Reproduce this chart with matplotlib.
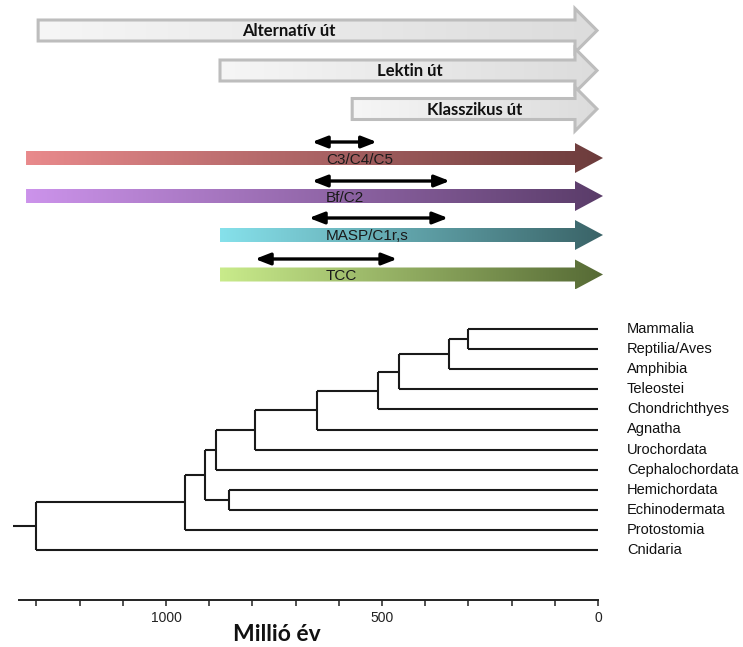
#!/usr/bin/env python

# Complement pathway evolution: pathway arrows over a dated metazoan tree

import numpy as np
import matplotlib
matplotlib.use("Agg")
import matplotlib.pyplot as plt
from matplotlib.patches import Polygon
from matplotlib.colors import LinearSegmentedColormap

# ---- data ---------------------------------------------------------------

taxa = ["Mammalia", "Reptilia/Aves", "Amphibia", "Teleostei", "Chondrichthyes",
        "Agnatha", "Urochordata", "Cephalochordata", "Hemichordata",
        "Echinodermata", "Protostomia", "Cnidaria"]

node_names = ["Amniota", "Tetrapoda", "Osteichthyes", "Gnathostomata",
              "Vertebrata", "Olfactores", "Chordata", "Ambulacraria",
              "Deuterostomia", "Bilateria", "Metazoa"]
node_ages = [300, 345, 460, 510, 650, 795, 885, 855, 910, 955, 1300]
node_children = [("Mammalia", "Reptilia/Aves"), ("Amniota", "Amphibia"),
                 ("Tetrapoda", "Teleostei"), ("Osteichthyes", "Chondrichthyes"),
                 ("Gnathostomata", "Agnatha"), ("Vertebrata", "Urochordata"),
                 ("Olfactores", "Cephalochordata"), ("Hemichordata", "Echinodermata"),
                 ("Chordata", "Ambulacraria"), ("Deuterostomia", "Protostomia"),
                 ("Bilateria", "Cnidaria")]
root_stem_age = 1355

# pathway arrows (start age in My)
pathways = ["Alternatív út", "Lektin út", "Klasszikus út"]
pathway_start = [1296, 875, 569]

# component families: arrow start age and origin interval (double arrow)
components = ["C3/C4/C5", "Bf/C2", "MASP/C1r,s", "TCC"]
comp_start = [1324, 1324, 875, 875]
comp_range = [(662, 512), (662, 343), (669, 347), (794, 465)]
comp_colors = [("#e98a8c", "#6c3c3c"), ("#cc93eb", "#5a3c69"),
               ("#86e1eb", "#3a6367"), ("#c9eb8b", "#566a35")]

x_ticks = list(range(0, 1400, 100))
x_ticklabels = ["0" if t == 0 else (str(t) if t % 500 == 0 else "") for t in x_ticks]

# ---- figure -------------------------------------------------------------

W, H = 743, 647
px_per_my = 0.432
x_zero = 598.0

fig = plt.figure(figsize=(W / 100.0, H / 100.0), dpi=100)
ax = fig.add_axes([0, 0, 1, 1])
ax.set_xlim(x_zero / px_per_my, (x_zero - W) / px_per_my)
ax.set_ylim(H, 0)

sans = ["Liberation Sans", "DejaVu Sans"]
bold = ["Lato", "DejaVu Sans"]


def arrow_poly(x0, xh, xt, yc, bh, hh):
    return [(x0, yc - bh), (xh, yc - bh), (xh, yc - hh), (xt, yc),
            (xh, yc + hh), (xh, yc + bh), (x0, yc + bh)]


def gradient_arrow(x0, xh, xt, yc, bh, hh, c0, c1, edge=None, z=2):
    cmap = LinearSegmentedColormap.from_list("g", [c0, c1])
    grad = np.linspace(0, 1, 256)[None, :]
    poly = Polygon(arrow_poly(x0, xh, xt, yc, bh, hh), closed=True,
                   facecolor="none", edgecolor="none")
    ax.add_patch(poly)
    im = ax.imshow(grad, cmap=cmap, extent=[x0, xt, yc + hh, yc - hh],
                   aspect="auto", interpolation="bilinear", zorder=z)
    im.set_clip_path(poly)
    if edge is not None:
        ax.add_patch(Polygon(arrow_poly(x0, xh, xt, yc, bh, hh), closed=True,
                             facecolor="none", edgecolor=edge, lw=2.2,
                             joinstyle="miter", zorder=z + 0.1))


# gray pathway arrows
head_x = (x_zero - 575) / px_per_my
gray_tip = (x_zero - 597) / px_per_my
gray_y = [30.5, 70.5, 109]
gray_text_x = [715, 435, 285]
for i, name in enumerate(pathways):
    gradient_arrow(pathway_start[i], head_x, gray_tip, gray_y[i], 10.5, 22,
                   "#f6f6f6", "#dcdcdc", edge="#bdbdbd", z=2 + i)
    ax.text(gray_text_x[i], gray_y[i] + 1, name, ha="center", va="center",
            fontsize=12, fontweight="bold", family=bold, color="#111111",
            zorder=6)

# coloured component arrows
comp_tip = (x_zero - 603) / px_per_my
comp_y = [158, 196, 235, 274.5]
range_y = [142, 181, 218, 259]
for i, name in enumerate(components):
    gradient_arrow(comp_start[i], head_x, comp_tip, comp_y[i], 7, 15,
                   comp_colors[i][0], comp_colors[i][1], z=2)
    ax.text(630, comp_y[i] + 1.5, name, ha="left", va="center",
            fontsize=11, family=sans, color="#1a1a1a", zorder=6)
    a, b = comp_range[i]
    ax.annotate("", xy=(b, range_y[i]), xytext=(a, range_y[i]),
                arrowprops=dict(arrowstyle="<|-|>,head_length=0.9,head_width=0.35",
                                color="black", lw=2.4, shrinkA=0, shrinkB=0),
                zorder=7)

# tree
leaf_y = {t: 329 + 20.1 * i for i, t in enumerate(taxa)}
node_x = {t: 0 for t in taxa}
node_y = dict(leaf_y)
line_kw = dict(color="#1a1a1a", lw=1.5, solid_capstyle="butt")
for name, age, (c1, c2) in zip(node_names, node_ages, node_children):
    y1, y2 = node_y[c1], node_y[c2]
    node_x[name] = age
    node_y[name] = (y1 + y2) / 2.0
    ax.plot([age, age], [y1, y2], **line_kw)
    ax.plot([age, node_x[c1]], [y1, y1], **line_kw)
    ax.plot([age, node_x[c2]], [y2, y2], **line_kw)
root = node_names[-1]
ax.plot([root_stem_age, node_x[root]], [node_y[root], node_y[root]], **line_kw)

for t in taxa:
    ax.text(-67, leaf_y[t], t, ha="left", va="center", fontsize=10.5,
            family=sans, color="#111111")

# time axis
for s in ["top", "left", "right"]:
    ax.spines[s].set_visible(False)
ax.spines["bottom"].set_position(("data", 600))
ax.spines["bottom"].set_bounds(1340, 0)
ax.spines["bottom"].set_linewidth(1.4)
ax.spines["bottom"].set_color("#222222")
ax.set_yticks([])
ax.set_xticks(x_ticks)
ax.set_xticklabels(x_ticklabels, fontsize=10, family=sans, color="#222222")
ax.tick_params(axis="x", direction="out", length=4, width=1.1, pad=4,
               color="#222222")
ax.set_xlabel("Millió év", fontsize=16.5, fontweight="bold", family=bold,
              color="#111111")
ax.xaxis.set_label_coords(277.0 / W, 1 - 624.0 / H)

fig.savefig("out.png", dpi=100)
